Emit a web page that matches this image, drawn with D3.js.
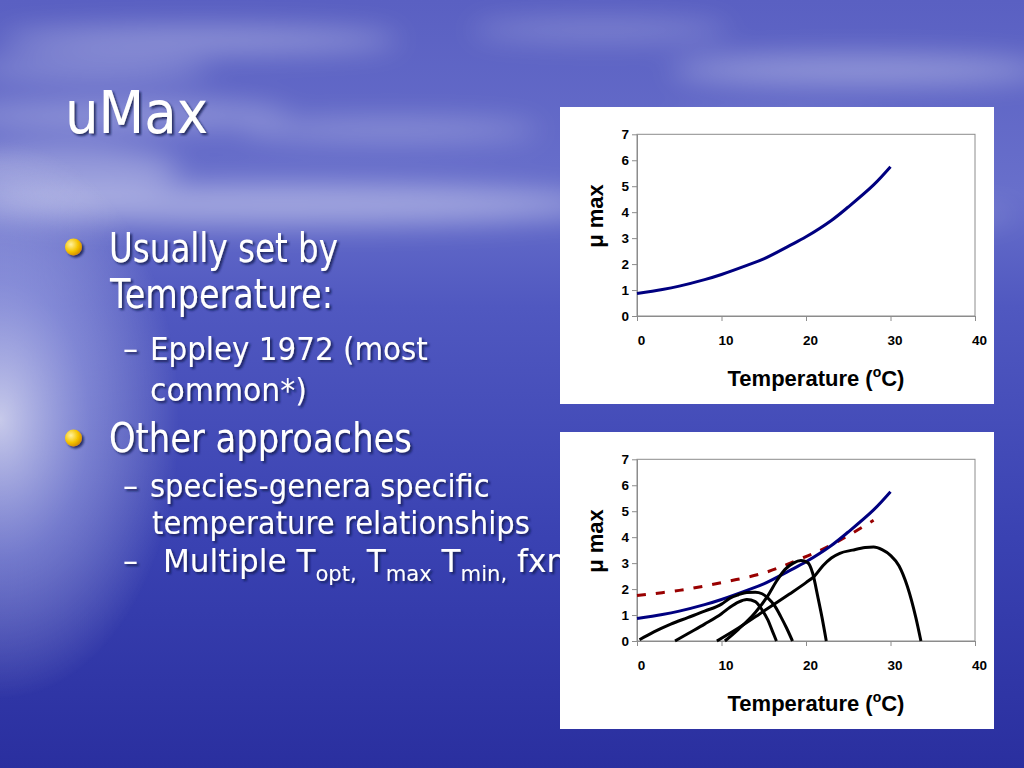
<!DOCTYPE html>
<html>
<head>
<meta charset="utf-8">
<script src="https://cdn.jsdelivr.net/npm/d3@7"></script>
<style>
  body { margin: 0; overflow: hidden; background: #3a40b0; }
  svg { display: block; }
</style>
</head>
<body>
<div id="slide"></div>
<script>
// Tick labels
var xTicks = [0, 10, 20, 30, 40];
var yTicks = [0, 1, 2, 3, 4, 5, 6, 7];

// Eppley 1972 curve (blue, both charts)
var eppleyTemp = [0, 3, 5, 8, 10, 13, 15, 18, 20, 23, 25, 28, 30];
var eppleyMu = [0.87, 1.02, 1.15, 1.4, 1.6, 1.95, 2.2, 2.7, 3.05, 3.68, 4.2, 5.05, 5.75];

// Dashed curve (lower chart)
var dashTemp = [0, 5, 10, 15, 19, 23, 28];
var dashMu = [1.75, 1.95, 2.25, 2.62, 3.12, 3.7, 4.65];

// Species curves (black, lower chart)
var sp1Temp = [0.3, 2, 4, 6, 8, 10, 11, 12, 13, 14, 14.8, 15.5, 16.3, 17, 17.7, 18.4];
var sp1Mu = [0.05, 0.35, 0.65, 0.9, 1.15, 1.42, 1.65, 1.78, 1.87, 1.88, 1.82, 1.65, 1.35, 0.95, 0.5, 0];

var sp2Temp = [4.5, 6, 8, 10, 11, 12, 13, 14, 14.8, 15.5, 16, 16.5];
var sp2Mu = [0, 0.28, 0.65, 1.05, 1.3, 1.5, 1.6, 1.52, 1.2, 0.8, 0.4, 0];

var sp3Temp = [10.4, 12, 14, 15.5, 16.5, 17.5, 18.5, 19.4, 20.2, 20.8, 21.4, 21.9, 22.4];
var sp3Mu = [0, 0.45, 1.1, 1.75, 2.3, 2.75, 3.0, 3.1, 3.02, 2.6, 1.7, 0.9, 0];

var sp4Temp = [9.45, 12, 15, 18, 20, 21, 22, 23, 24, 25.5, 27, 28, 29, 30, 31, 32, 33, 33.6];
var sp4Mu = [0, 0.5, 1.15, 1.8, 2.25, 2.5, 2.9, 3.2, 3.38, 3.5, 3.6, 3.62, 3.52, 3.3, 2.9, 2.1, 0.9, 0];

var svg = d3.select("#slide")
    .append("svg")
    .attr("width", 1024)
    .attr("height", 768);

var defs = svg.append("defs");

// Sky / sea gradient
var bg = defs.append("linearGradient").attr("id", "bg")
    .attr("x1", 0).attr("y1", 0).attr("x2", 0).attr("y2", 1);
[["0%", "#5a60c2"], ["25%", "#686fcb"], ["40%", "#5058c0"], ["70%", "#3a42b2"], ["100%", "#2a2f9f"]]
    .forEach(function(s) { bg.append("stop").attr("offset", s[0]).attr("stop-color", s[1]); });

var glow = defs.append("radialGradient").attr("id", "glow")
    .attr("cx", 0.5).attr("cy", 0.5).attr("r", 0.5);
glow.append("stop").attr("offset", "0%").attr("stop-color", "#ffffff").attr("stop-opacity", 0.7);
glow.append("stop").attr("offset", "50%").attr("stop-color", "#dfe3ff").attr("stop-opacity", 0.35);
glow.append("stop").attr("offset", "100%").attr("stop-color", "#ffffff").attr("stop-opacity", 0);

var bulletGrad = defs.append("radialGradient").attr("id", "bullet")
    .attr("cx", 0.35).attr("cy", 0.35).attr("r", 0.7);
bulletGrad.append("stop").attr("offset", "0%").attr("stop-color", "#fff2a0");
bulletGrad.append("stop").attr("offset", "60%").attr("stop-color", "#f5c400");
bulletGrad.append("stop").attr("offset", "100%").attr("stop-color", "#d08a00");

defs.append("filter").attr("id", "blur").attr("x", "-50%").attr("y", "-50%").attr("width", "200%").attr("height", "200%")
    .append("feGaussianBlur").attr("stdDeviation", 14);

defs.append("filter").attr("id", "shadow")
    .append("feDropShadow")
    .attr("dx", 2).attr("dy", 2).attr("stdDeviation", 0.8)
    .attr("flood-color", "#10124a").attr("flood-opacity", 0.8);

svg.append("rect").attr("width", 1024).attr("height", 768).attr("fill", "url(#bg)");

// clouds and glare
var clouds = svg.append("g").attr("filter", "url(#blur)");
[
    [200, 40, 200, 12, 0.35], [90, 70, 120, 10, 0.3], [120, 115, 170, 12, 0.35], [390, 130, 150, 10, 0.3],
    [600, 30, 130, 10, 0.25], [860, 70, 190, 14, 0.35], [770, 130, 110, 9, 0.25],
    [280, 205, 320, 20, 0.4], [820, 215, 200, 12, 0.2], [60, 170, 120, 26, 0.3]
].forEach(function(c) {
    clouds.append("ellipse")
        .attr("cx", c[0]).attr("cy", c[1]).attr("rx", c[2]).attr("ry", c[3])
        .attr("fill", "#ffffff").attr("opacity", c[4]);
});
svg.append("ellipse")
    .attr("cx", 0).attr("cy", 420).attr("rx", 180).attr("ry", 280)
    .attr("fill", "url(#glow)");

// Slide text
var textLayer = svg.append("g")
    .attr("fill", "#ffffff")
    .attr("font-family", "'DejaVu Sans', Verdana, sans-serif")
    .attr("filter", "url(#shadow)")
    .style("white-space", "pre");

function slideLine(x, y, size, parts, width, sx) {
    var t = textLayer.append("text").attr("font-size", size);
    parts.forEach(function(p) {
        var s = t.append("tspan").text(p.text);
        if (p.sub) s.attr("font-size", size * 0.68).attr("dy", size * 0.28);
        if (p.up) s.attr("dy", -size * 0.28);
    });
    var w = t.node().getComputedTextLength();
    var k = width ? width / w : sx;
    t.attr("transform", `translate(${x},${y}) scale(${k},1)`);
    return k;
}

slideLine(65, 133, 59, [{text: "uMax"}], 143);

textLayer.append("circle").attr("cx", 73.5).attr("cy", 247).attr("r", 8.5).attr("fill", "url(#bullet)");
textLayer.append("circle").attr("cx", 73.5).attr("cy", 438).attr("r", 8.5).attr("fill", "url(#bullet)");

slideLine(109, 262, 40, [{text: "Usually set by"}], 229);
slideLine(110, 308, 40, [{text: "Temperature:"}], 223);
slideLine(123, 360, 31.5, [{text: "–"}], 15);
slideLine(150, 360, 31.5, [{text: "Eppley 1972 (most"}], 278);
slideLine(150, 401, 31.5, [{text: "common*)"}], 157);
slideLine(109, 452, 40, [{text: "Other approaches"}], 303);
slideLine(123, 497, 31.5, [{text: "–"}], 15);
slideLine(150, 497, 31.5, [{text: "species-genera specific"}], 340);
var kSub = slideLine(152, 534, 31.5, [{text: "temperature relationships"}], 378);
slideLine(123, 572, 31.5, [{text: "–"}], 15);
slideLine(163, 572, 31.5, [
    {text: "Multiple T"}, {text: "opt,", sub: true}, {text: " T", up: true},
    {text: "max", sub: true}, {text: " T", up: true}, {text: "min,", sub: true},
    {text: "  fxns", up: true}
], null, kSub * 1.07);

// Charts
var plot = {left: 637, right: 975, top: 134.3, bottom: 316};

function drawChart(offset, series) {
    var g = svg.append("g").attr("transform", `translate(0, ${offset})`);

    g.append("rect")
        .attr("x", 560).attr("y", 107).attr("width", 434).attr("height", 297)
        .attr("fill", "#ffffff");

    var xScale = d3.scaleLinear().domain([0, 40]).range([plot.left, plot.right]);
    var yScale = d3.scaleLinear().domain([0, 7]).range([plot.bottom, plot.top]);

    g.append("rect")
        .attr("x", xScale(0)).attr("y", yScale(7))
        .attr("width", xScale(40) - xScale(0)).attr("height", yScale(0) - yScale(7))
        .attr("fill", "none").attr("stroke", "#8c8c8c").attr("stroke-width", 1);

    var xAxis = g.append("g")
        .attr("transform", `translate(0, ${yScale(0)})`)
        .call(d3.axisBottom(xScale).tickValues(xTicks).tickFormat(d3.format("d"))
            .tickSize(5).tickSizeOuter(0).tickPadding(14));
    xAxis.selectAll("text").attr("dx", 4);

    var yAxis = g.append("g")
        .attr("transform", `translate(${xScale(0)}, 0)`)
        .call(d3.axisLeft(yScale).tickValues(yTicks).tickFormat(d3.format("d"))
            .tickSize(5).tickSizeOuter(0).tickPadding(3));

    [xAxis, yAxis].forEach(function(a) {
        a.select(".domain").attr("stroke", "#8c8c8c");
        a.selectAll(".tick line").attr("stroke", "#8c8c8c");
        a.selectAll("text")
            .attr("fill", "#000000")
            .style("font-family", "'Liberation Sans', Arial, sans-serif")
            .style("font-weight", "bold")
            .style("font-size", "13.5px");
    });

    series.forEach(function(s) {
        var line = d3.line()
            .x(d => xScale(d[0]))
            .y(d => yScale(d[1]))
            .curve(s.smooth ? d3.curveCatmullRom.alpha(0.5) : d3.curveMonotoneX);
        g.append("path")
            .datum(d3.zip(s.temp, s.mu))
            .attr("d", line)
            .attr("fill", "none")
            .attr("stroke", s.color)
            .attr("stroke-width", 3)
            .attr("stroke-dasharray", s.dash || null)
            .attr("stroke-linejoin", "round");
    });

    // Axis labels
    var label = g.append("text")
        .attr("text-anchor", "middle")
        .attr("font-family", "'Liberation Sans', Arial, sans-serif")
        .attr("font-weight", "bold")
        .attr("font-size", 22)
        .attr("x", 816)
        .attr("y", 386);
    label.append("tspan").text("Temperature (");
    label.append("tspan").text("o").attr("font-size", 14).attr("dy", -9);
    label.append("tspan").text("C)").attr("dy", 9);

    g.append("text")
        .attr("transform", "translate(603, 216) rotate(-90)")
        .attr("text-anchor", "middle")
        .attr("font-family", "'Liberation Sans', Arial, sans-serif")
        .attr("font-weight", "bold")
        .attr("font-size", 22)
        .text("μ max");
}

drawChart(0, [
    {temp: eppleyTemp, mu: eppleyMu, color: "#000080", smooth: true}
]);

drawChart(325, [
    {temp: dashTemp, mu: dashMu, color: "#990000", dash: "9,10", smooth: true},
    {temp: eppleyTemp, mu: eppleyMu, color: "#000080", smooth: true},
    {temp: sp1Temp, mu: sp1Mu, color: "#000000"},
    {temp: sp2Temp, mu: sp2Mu, color: "#000000"},
    {temp: sp3Temp, mu: sp3Mu, color: "#000000"},
    {temp: sp4Temp, mu: sp4Mu, color: "#000000"}
]);
</script>
</body>
</html>
